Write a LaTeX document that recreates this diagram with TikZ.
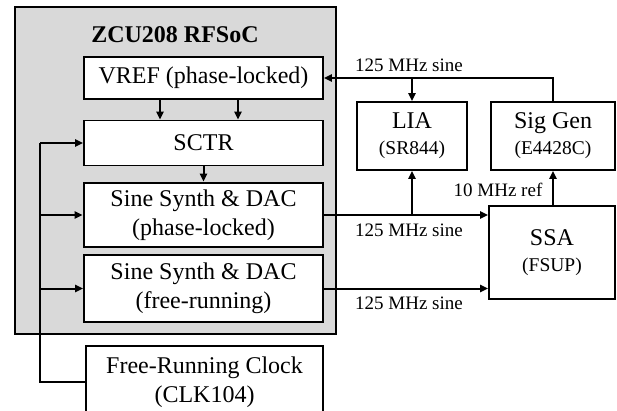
\documentclass[tikz,border=0pt]{standalone}
\usepackage{fontspec}
\setmainfont{Liberation Serif}
\usetikzlibrary{arrows.meta}
\definecolor{boardgray}{RGB}{217,217,217}
\tikzset{
  box/.style={draw, line width=1.6pt, fill=white, rectangle, inner sep=0pt, align=center,
    font=\fontsize{24}{29}\selectfont},
  lbl/.style={font=\fontsize{19}{22}\selectfont, inner sep=0pt},
  conn/.style={line width=2pt},
  arr/.style={line width=2pt, -{Triangle[length=8pt,width=7pt]}},
}
\newcommand{\subl}[1]{{\fontsize{19.5}{22}\selectfont #1}}
\begin{document}
\begin{tikzpicture}[x=1pt,y=-1pt]
\clip (0,0) rectangle (617,411);
\useasboundingbox (0,0) rectangle (617,411);
\fill[white] (0,0) rectangle (617,411);
% board
\node[draw, line width=2pt, fill=boardgray, minimum width=321pt, minimum height=327pt, inner sep=0pt] (board) at (175.5,170.5) {};
\node[font=\fontsize{24}{29}\selectfont\bfseries, inner sep=0pt] (title) at (175,35) {ZCU208 RFSoC};
% boxes
\node[box, minimum width=239pt, minimum height=42pt] (vref) at (203.5,78) {VREF (phase-locked)};
\node[box, minimum width=239pt, minimum height=45pt] (sctr) at (203.5,143) {SCTR};
\node[box, line width=2.6pt, minimum width=239pt, minimum height=64pt] (ss1) at (203.5,215) {Sine Synth \& DAC\\(phase-locked)};
\node[box, minimum width=239pt, minimum height=67pt] (ss2) at (203.5,288.5) {Sine Synth \& DAC\\(free-running)};
\node[box, minimum width=237pt, minimum height=72pt] (clk) at (204.5,382) {Free-Running Clock\\(CLK104)};
\node[box, minimum width=110pt, minimum height=68pt] (lia) at (412,136) {LIA\\[-3pt]\subl{(SR844)}};
\node[box, minimum width=124pt, minimum height=68pt] (sg) at (553,136) {Sig Gen\\[-3pt]\subl{(E4428C)}};
\node[box, minimum width=126pt, minimum height=93pt] (ssa) at (552,252.5) {SSA\\[-3pt]\subl{(FSUP)}};
% helper coordinates
\coordinate (xa) at (160,0);
\coordinate (xb) at (238,0);
\coordinate (bus) at (40,0);
% VREF -> SCTR
\draw[arr] (vref.south -| xa) -- (sctr.north -| xa);
\draw[arr] (vref.south -| xb) -- (sctr.north -| xb);
% SCTR -> SS1
\draw[arr] (sctr.south) -- (ss1.north);
% clock bus
\draw[conn] (clk.west) -- (clk.west -| bus) -- (bus |- sctr.west);
\draw[arr] (bus |- sctr.west) -- (sctr.west);
\draw[arr] (bus |- ss1.west) -- (ss1.west);
\draw[arr] (bus |- ss2.west) -- (ss2.west);
% Sig Gen -> VREF and LIA
\draw[arr] (sg.north) |- (vref.east);
\draw[arr] (lia.north |- vref.east) -- (lia.north);
% SS1 -> SSA and LIA
\draw[arr] (ss1.east) -- (ss1.east -| ssa.west);
\draw[arr] (ss1.east -| lia.south) -- (lia.south);
% SS2 -> SSA
\draw[arr] (ss2.east) -- (ss2.east -| ssa.west);
% SSA -> Sig Gen
\draw[arr] (sg.south |- ssa.north) -- (sg.south);
% labels
\node[lbl] (l1) at (409,65) {125 MHz sine};
\node[lbl] (l2) at (409,230) {125 MHz sine};
\node[lbl] (l3) at (409,303) {125 MHz sine};
\node[lbl] (l4) at (498,190) {10 MHz ref};
\end{tikzpicture}
\end{document}
